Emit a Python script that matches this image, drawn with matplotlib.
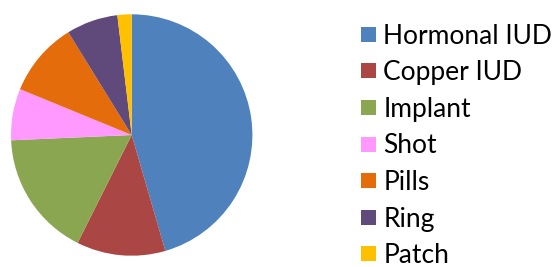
import matplotlib.pyplot as plt
from matplotlib.patches import Patch

# contraception methods, share of total (%)
methods = ["Hormonal IUD", "Copper IUD", "Implant", "Shot", "Pills", "Ring", "Patch"]
shares = [45.5, 11.9, 16.9, 6.9, 10.0, 6.9, 1.9]
colors = ["#4F81BD", "#AA4744", "#8BA650", "#FF99FF", "#E46C0A", "#604A7B", "#FFC000"]

W, H = 557, 267
fig = plt.figure(figsize=(W / 100, H / 100), dpi=100)

# pie centre ~(131.7, 135) px, radius ~120.7 px
cx, cy, r = 131.7, 135, 120.7
ax = fig.add_axes([(cx - r) / W, (H - cy - r) / H, 2 * r / W, 2 * r / H])
ax.pie(shares, colors=colors, startangle=90, counterclock=False, radius=1,
       wedgeprops=dict(linewidth=0))
ax.set_xlim(-1, 1)
ax.set_ylim(-1, 1)
ax.set_aspect("auto")
ax.axis("off")

handles = [Patch(facecolor=c, edgecolor="none") for c in colors]
fig.legend(handles, methods, loc="center left", bbox_to_anchor=(361 / W, (H - 146) / H),
           frameon=False, prop=dict(family="Lato", size=19),
           handlelength=0.55, handleheight=0.5, handletextpad=0.3,
           labelspacing=0.44, borderpad=0, borderaxespad=0)

fig.savefig("out.png", dpi=100)
